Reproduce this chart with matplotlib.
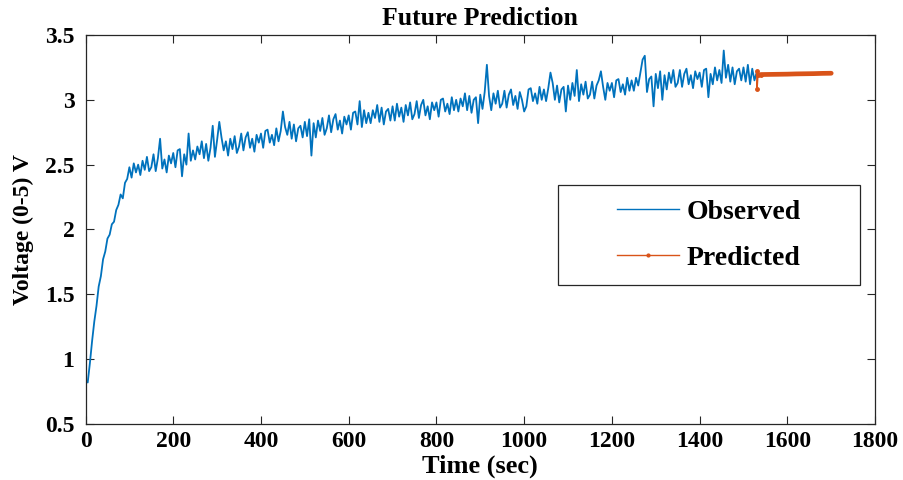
#!/usr/bin/env python3
"""
Sensor voltage forecast plot.
Observed voltage trace (0-5 V channel) with the model's future prediction appended.
"""

import numpy as np
import matplotlib.pyplot as plt
from matplotlib.lines import Line2D
from matplotlib.patches import Rectangle

SAMPLE_STEP = 5  # seconds between stored samples

# Observed voltage, one value every SAMPLE_STEP seconds from t = 0 to 1530 s
observed_v = [
    0.84, 0.82, 0.97, 1.14, 1.29, 1.41, 1.56, 1.64, 1.77, 1.83,
    1.93, 1.96, 2.04, 2.06, 2.15, 2.19, 2.27, 2.24, 2.36, 2.39,
    2.48, 2.40, 2.51, 2.44, 2.50, 2.42, 2.53, 2.46, 2.56, 2.45,
    2.48, 2.58, 2.45, 2.55, 2.70, 2.47, 2.54, 2.44, 2.57, 2.51,
    2.59, 2.48, 2.61, 2.62, 2.41, 2.58, 2.50, 2.74, 2.53, 2.61,
    2.54, 2.64, 2.58, 2.68, 2.55, 2.66, 2.53, 2.63, 2.80, 2.56,
    2.69, 2.83, 2.71, 2.61, 2.68, 2.57, 2.70, 2.62, 2.72, 2.59,
    2.64, 2.74, 2.61, 2.71, 2.75, 2.63, 2.70, 2.60, 2.73, 2.67,
    2.74, 2.63, 2.76, 2.77, 2.67, 2.73, 2.65, 2.78, 2.68, 2.76,
    2.91, 2.79, 2.73, 2.83, 2.70, 2.81, 2.68, 2.78, 2.80, 2.71,
    2.83, 2.72, 2.85, 2.57, 2.82, 2.71, 2.84, 2.76, 2.86, 2.73,
    2.78, 2.88, 2.75, 2.85, 2.89, 2.77, 2.84, 2.74, 2.87, 2.81,
    2.88, 2.77, 2.90, 2.91, 2.81, 2.99, 2.79, 2.92, 2.82, 2.90,
    2.82, 2.92, 2.86, 2.96, 2.83, 2.94, 2.81, 2.91, 2.93, 2.84,
    2.95, 2.84, 2.97, 2.87, 2.94, 2.83, 2.96, 2.88, 2.98, 2.85,
    2.89, 2.99, 2.86, 2.96, 3.00, 2.88, 2.95, 2.85, 2.98, 2.92,
    2.98, 2.87, 3.00, 3.01, 2.91, 2.97, 2.89, 3.02, 2.92, 3.00,
    2.91, 3.01, 2.95, 3.05, 2.92, 3.03, 2.90, 3.00, 3.02, 2.82,
    3.04, 2.93, 3.06, 3.27, 3.03, 2.92, 3.05, 2.97, 3.07, 2.94,
    2.97, 3.07, 2.94, 3.04, 3.08, 2.96, 3.03, 2.93, 3.06, 3.00,
    2.91, 2.95, 3.08, 3.09, 2.99, 3.05, 2.97, 3.10, 3.00, 3.08,
    2.99, 3.09, 3.21, 3.13, 3.00, 3.11, 2.98, 3.08, 3.10, 2.91,
    3.11, 3.00, 3.13, 3.03, 3.23, 2.99, 3.12, 3.04, 3.14, 3.01,
    3.04, 3.14, 3.01, 3.11, 3.15, 3.22, 3.10, 3.00, 3.13, 3.07,
    3.13, 3.02, 3.15, 3.16, 3.06, 3.12, 3.04, 3.17, 3.07, 3.15,
    3.07, 3.17, 3.11, 3.21, 3.31, 3.34, 3.06, 3.16, 3.18, 2.95,
    3.20, 3.09, 3.22, 3.00, 3.19, 3.08, 3.21, 3.13, 3.23, 3.10,
    3.13, 3.23, 3.10, 3.20, 3.24, 3.12, 3.19, 3.09, 3.22, 3.16,
    3.21, 3.10, 3.23, 3.24, 3.02, 3.20, 3.12, 3.25, 3.15, 3.23,
    3.13, 3.38, 3.17, 3.27, 3.14, 3.25, 3.12, 3.22, 3.24, 3.15,
    3.25, 3.14, 3.27, 3.12, 3.24, 3.15, 3.21,
]

# Forecast picks up at the end of the observed record
predicted_t = [1530, 1531, 1533, 1540, 1560, 1580, 1600, 1620, 1640, 1660, 1680, 1700]
predicted_v = [3.22, 3.08, 3.19, 3.195, 3.196, 3.197, 3.198, 3.200, 3.201, 3.202, 3.204, 3.205]

OBS_COLOR = '#0072BD'
PRED_COLOR = '#D95319'
AX_COLOR = '#262626'


def main():
    observed_t = np.arange(len(observed_v)) * SAMPLE_STEP

    plt.rcParams['font.family'] = ['Liberation Serif', 'DejaVu Serif']
    plt.rcParams['font.weight'] = 'bold'

    fig = plt.figure(figsize=(9.04, 4.8), dpi=100)
    ax = fig.add_axes([0.0946, 0.1167, 0.8734, 0.8104])

    ax.plot(observed_t, observed_v, color=OBS_COLOR, linewidth=1.3)
    # jump at the hand-over, then the flat forecast drawn as a heavy dotted trace
    ax.plot(predicted_t[:4], predicted_v[:4], color=PRED_COLOR, linewidth=1.0,
            marker='.', markersize=5)
    ax.plot(predicted_t[2:], predicted_v[2:], color=PRED_COLOR, linewidth=3.4,
            solid_capstyle='round')

    ax.set_xlim(0, 1800)
    ax.set_ylim(0.5, 3.5)
    ax.set_xticks(np.arange(0, 1801, 200))
    ax.set_yticks(np.arange(0.5, 3.51, 0.5))
    ax.set_yticklabels(['0.5', '1', '1.5', '2', '2.5', '3', '3.5'])

    ax.tick_params(direction='in', top=True, right=True, length=5.5, width=0.8,
                   colors=AX_COLOR, labelsize=17, labelcolor='black')
    ax.tick_params(axis='y', pad=8)
    ax.tick_params(axis='x', pad=5)
    for spine in ax.spines.values():
        spine.set_color(AX_COLOR)
        spine.set_linewidth(0.9)

    ax.set_title('Future Prediction', fontsize=18.5, fontweight='bold', pad=7)
    ax.set_xlabel('Time (sec)', fontsize=19, fontweight='bold', labelpad=2)
    ax.set_ylabel('Voltage (0-5) V', fontsize=17, fontweight='bold', labelpad=8)

    # legend box in axes coordinates, entries centred inside it
    box = Rectangle((0.5985, 0.357), 0.3825, 0.257, transform=ax.transAxes,
                    facecolor='white', edgecolor=AX_COLOR, linewidth=0.9, zorder=4)
    ax.add_patch(box)
    handles = [
        Line2D([], [], color=OBS_COLOR, linewidth=1.0),
        Line2D([], [], color=PRED_COLOR, linewidth=1.0, marker='.', markersize=4),
    ]
    leg = ax.legend(handles, ['Observed', 'Predicted'], loc='center',
                    bbox_to_anchor=(0.79, 0.486), fontsize=20, frameon=False,
                    handlelength=2.2, handletextpad=0.3, labelspacing=0.75,
                    borderaxespad=0.0, borderpad=0.0)
    leg.set_zorder(5)

    fig.savefig('out.png', dpi=100)
    plt.close(fig)


if __name__ == '__main__':
    main()
